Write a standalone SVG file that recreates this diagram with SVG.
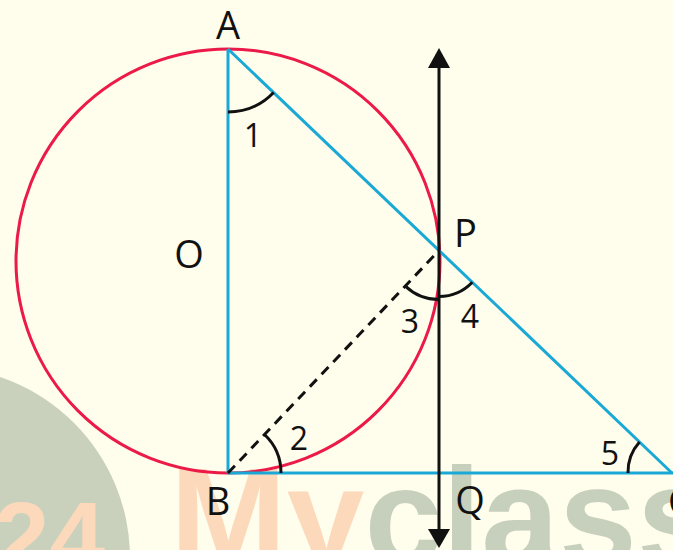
<svg xmlns="http://www.w3.org/2000/svg" width="673" height="550" viewBox="0 0 673 550">
  <style>
    .lbl { font-family: "Open Sans", "Noto Sans", "Liberation Sans", sans-serif; font-size: 38px; fill: #111; }
    .num { font-family: "Open Sans", "Noto Sans", "Liberation Sans", sans-serif; font-size: 32px; fill: #111; }
    .seg { stroke: #1AA8D6; stroke-width: 3; fill: none; }
    .arc { stroke: #111; stroke-width: 3; fill: none; }
    .wm { font-family: "Liberation Sans", Arial, sans-serif; font-weight: bold; }
  </style>
  <rect width="673" height="550" fill="#FFFDEB"/>
  <g id="watermark">
    <circle cx="-61" cy="558" r="191" fill="#C9D1BD"/>
    <text class="wm" x="105" y="572" font-size="100" text-anchor="end" fill="#FDD9BB">24</text>
    <text class="wm" x="170" y="565" font-size="140"><tspan fill="#FDD9BB">My</tspan><tspan fill="#C7D0BC">class</tspan></text>
  </g>
  <g id="circle">
    <circle cx="228" cy="261" r="212" fill="none" stroke="#EC1A48" stroke-width="3"/>
  </g>
  <g id="connectors">
    <line class="seg" x1="228" y1="49" x2="228" y2="473"/>
    <line class="seg" x1="228" y1="49" x2="672" y2="473"/>
    <line class="seg" x1="228" y1="473" x2="673" y2="473"/>
    <line x1="228" y1="473" x2="439" y2="250.5" stroke="#111" stroke-width="3" stroke-dasharray="10 7"/>
    <line x1="439" y1="62" x2="439" y2="535" stroke="#111" stroke-width="3"/>
    <polygon points="439,48 428,68 450,68" fill="#111"/>
    <polygon points="439,548 428,529 450,529" fill="#111"/>
  </g>
  <g id="angles">
    <path class="arc" d="M228,112 A63,63 0 0 0 273.6,92.5"/>
    <path class="arc" d="M281,473 A53,53 0 0 0 264.5,434.5"/>
    <path class="arc" d="M405.3,286.1 A49,49 0 0 0 439,299.5"/>
    <path class="arc" d="M439,296.5 A46,46 0 0 0 472.3,282.3"/>
    <path class="arc" d="M639.5,441.9 A45,45 0 0 0 628,473"/>
    <text class="num" x="253" y="147" text-anchor="middle">1</text>
    <text class="num" x="299" y="450" text-anchor="middle">2</text>
    <text class="num" x="410" y="333" text-anchor="middle">3</text>
    <text class="num" x="470" y="328" text-anchor="middle">4</text>
    <text class="num" x="610" y="465" text-anchor="middle">5</text>
  </g>
  <g id="node-A"><text class="lbl" x="228" y="39" text-anchor="middle">A</text></g>
  <g id="node-O"><text class="lbl" x="189" y="268" text-anchor="middle">O</text></g>
  <g id="node-P"><text class="lbl" x="454" y="247">P</text></g>
  <g id="node-B"><text class="lbl" x="218" y="515" text-anchor="middle">B</text></g>
  <g id="node-Q"><text class="lbl" x="470" y="514" text-anchor="middle">Q</text></g>
  <g id="node-C"><text class="lbl" x="668" y="515">C</text></g>
</svg>
